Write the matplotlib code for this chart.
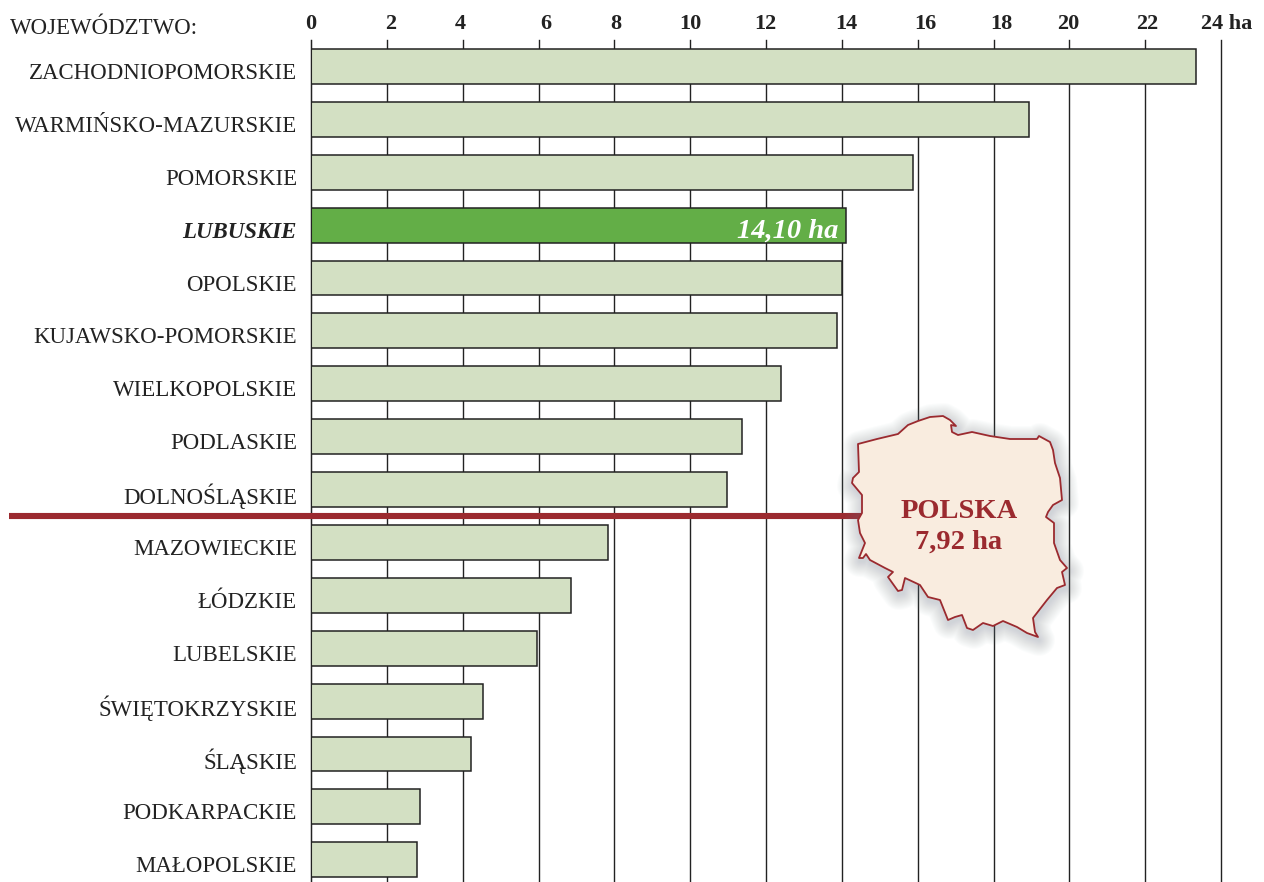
#!/usr/bin/env python
# area per voivodeship, horizontal bars with the Poland badge on top
import numpy as np
import matplotlib
matplotlib.use('Agg')
import matplotlib.pyplot as plt
from matplotlib.patches import Polygon

plt.rcParams['font.family'] = ['Liberation Serif', 'DejaVu Serif']

regions = ['ZACHODNIOPOMORSKIE', 'WARMIŃSKO-MAZURSKIE', 'POMORSKIE', 'LUBUSKIE',
           'OPOLSKIE', 'KUJAWSKO-POMORSKIE', 'WIELKOPOLSKIE', 'PODLASKIE',
           'DOLNOŚLĄSKIE', 'MAZOWIECKIE', 'ŁÓDZKIE', 'LUBELSKIE',
           'ŚWIĘTOKRZYSKIE', 'ŚLĄSKIE', 'PODKARPACKIE', 'MAŁOPOLSKIE']
values = [23.34, 18.93, 15.87, 14.10, 14.0, 13.87, 12.4, 11.37,
          10.97, 7.83, 6.86, 5.96, 4.54, 4.22, 2.87, 2.80]
ticks = [0, 2, 4, 6, 8, 10, 12, 14, 16, 18, 20, 22]
tick_shift = [0, 4, -2, 7, 1, 0, -1, 4, 8, 8, -1, 2]  # the labels sit off the grid in the original

highlight = 'LUBUSKIE'
poland = 7.92

# outline of the country, in picture pixels
map_x = [858, 877, 898, 908, 918, 930, 943, 950, 956, 951, 952, 958, 972, 990, 1010, 1037,
         1039, 1050, 1053, 1055, 1060, 1062, 1053, 1048, 1046, 1054, 1054, 1060, 1067, 1062,
         1065, 1057, 1047, 1033, 1035, 1038, 1027, 1017, 1003, 993, 983, 973, 967, 962, 955,
         948, 940, 928, 920, 905, 902, 898, 888, 893, 885, 870, 866, 863, 859, 865, 860, 858,
         862, 862, 852, 853, 859, 858]
map_y = [444, 439, 434, 425, 421, 417, 416, 420, 426, 425, 432, 435, 432, 436, 439, 439,
         436, 442, 450, 463, 478, 500, 505, 512, 517, 523, 543, 560, 568, 572,
         585, 588, 600, 618, 632, 637, 633, 627, 621, 626, 623, 630, 628, 615, 617,
         620, 600, 597, 585, 578, 590, 591, 577, 572, 568, 560, 554, 558, 558, 543, 533, 520,
         513, 495, 483, 478, 472, 444]

fig = plt.figure(figsize=(12.64, 8.82), dpi=100)
W, H = 1264.0, 882.0

ax = fig.add_axes([311 / W, 0, 910 / W, 842 / H])
ypos = np.arange(len(regions))
colors = ['#63ae47' if r == highlight else '#d3e0c3' for r in regions]
ax.barh(ypos, values, height=0.66, color=colors, edgecolor='#222222', linewidth=1.1, zorder=3)
ax.set_xlim(0, 24)
ax.set_ylim(15.42, -0.5)
ax.set_xticks(ticks + [24])
ax.set_xticklabels([])
ax.set_yticks([])
ax.grid(axis='x', color='#222222', linewidth=1.0, zorder=0, clip_on=False)
ax.tick_params(length=0)
for side in ['top', 'right', 'bottom']:
    ax.spines[side].set_visible(False)
ax.spines['left'].set_color('#222222')
ax.spines['left'].set_zorder(4)

for t, s in zip(ticks, tick_shift):
    ax.annotate(str(t), (t, 1), xycoords=ax.get_xaxis_transform(), xytext=(s, 16),
                textcoords='offset pixels', ha='center', va='center',
                fontsize=16, fontweight='bold', color='#222222')
ax.annotate('24 ha', (24, 1), xycoords=ax.get_xaxis_transform(), xytext=(-20, 16),
            textcoords='offset pixels', ha='left', va='center',
            fontsize=16, fontweight='bold', color='#222222')

for y, r, v in zip(ypos, regions, values):
    hl = r == highlight
    ax.annotate(r, (0, y), xycoords=ax.get_yaxis_transform(), xytext=(-14, -7),
                textcoords='offset pixels', ha='right', va='center', fontsize=16.5,
                color='#222222', fontweight='bold' if hl else 'normal',
                fontstyle='italic' if hl else 'normal')
    if hl:
        ax.annotate('14,10 ha', (v, y), xytext=(-7, -6), textcoords='offset pixels',
                    ha='right', va='center', fontsize=20.5, fontweight='bold',
                    fontstyle='italic', color='white', zorder=5)

# overlay in picture pixels for the reference line and the map
over = fig.add_axes([0, 0, 1, 1], facecolor='none')
over.set_xlim(0, W)
over.set_ylim(H, 0)
over.axis('off')

over.text(10, 28, 'WOJEWÓDZTWO:', fontsize=16.5, color='#222222', ha='left', va='center')
over.plot([9, 864], [516, 516], color='#9b2a2f', linewidth=4.4, solid_capstyle='butt', zorder=2)

outline = np.column_stack([map_x, map_y])
# soft grey shadow, built from wide translucent strokes
for lw in np.arange(2, 24, 1.5):
    over.add_patch(Polygon(outline + [1, 3], closed=True, facecolor='none', edgecolor='#7a8390',
                           linewidth=lw, alpha=0.022, joinstyle='round', zorder=3))
over.add_patch(Polygon(outline, closed=True, facecolor='#f9ecdf', edgecolor='#9b2a2f',
                       linewidth=1.3, joinstyle='round', zorder=4))
over.text(959, 512, 'POLSKA', fontsize=20.5, fontweight='bold', color='#9b2a2f',
          ha='center', va='center', zorder=5)
over.text(959, 542, ('%.2f ha' % poland).replace('.', ','), fontsize=20.5, fontweight='bold',
          color='#9b2a2f', ha='center', va='center', zorder=5)

fig.savefig('out.png', dpi=100)
